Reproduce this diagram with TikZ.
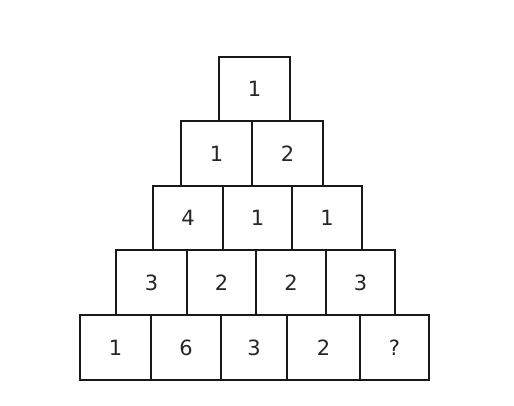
\documentclass[tikz,border=0pt]{standalone}
\usepackage{fontspec}
\setmainfont{DejaVu Sans}
\begin{document}
\begin{tikzpicture}[x=1pt,y=-1pt,
  cell/.style={draw=black!90, line width=2.3pt, fill=white, inner sep=0pt,
    minimum width=#1, minimum height=64.5pt, font=\fontsize{21}{21}\selectfont, text=black!85},
  cell/.default=70pt]
\useasboundingbox[fill=white] (0,0) rectangle (514,405);
% row 1
\node[cell=71pt] (r1a) at (254.5,89) {1};
% row 2
\node[cell=71pt] (r2a) at (216.5,153.5) {1};
\node[cell=71pt] (r2b) at (287.5,153.5) {2};
% row 3
\node[cell=70pt] (r3a) at (188,218) {4};
\node[cell=69pt] (r3b) at (257.5,218) {1};
\node[cell=70pt] (r3c) at (327,218) {1};
% row 4
\node[cell=71pt] (r4a) at (151.5,282.5) {3};
\node[cell=69pt] (r4b) at (221.5,282.5) {2};
\node[cell=70pt] (r4c) at (291,282.5) {2};
\node[cell=69pt] (r4d) at (360.5,282.5) {3};
% row 5
\node[cell=71pt] (r5a) at (115.5,347.5) {1};
\node[cell=70pt] (r5b) at (186,347.5) {6};
\node[cell=66pt] (r5c) at (254,347.5) {3};
\node[cell=73pt] (r5d) at (323.5,347.5) {2};
\node[cell=69pt] (r5e) at (394.5,347.5) {?};
\end{tikzpicture}
\end{document}
